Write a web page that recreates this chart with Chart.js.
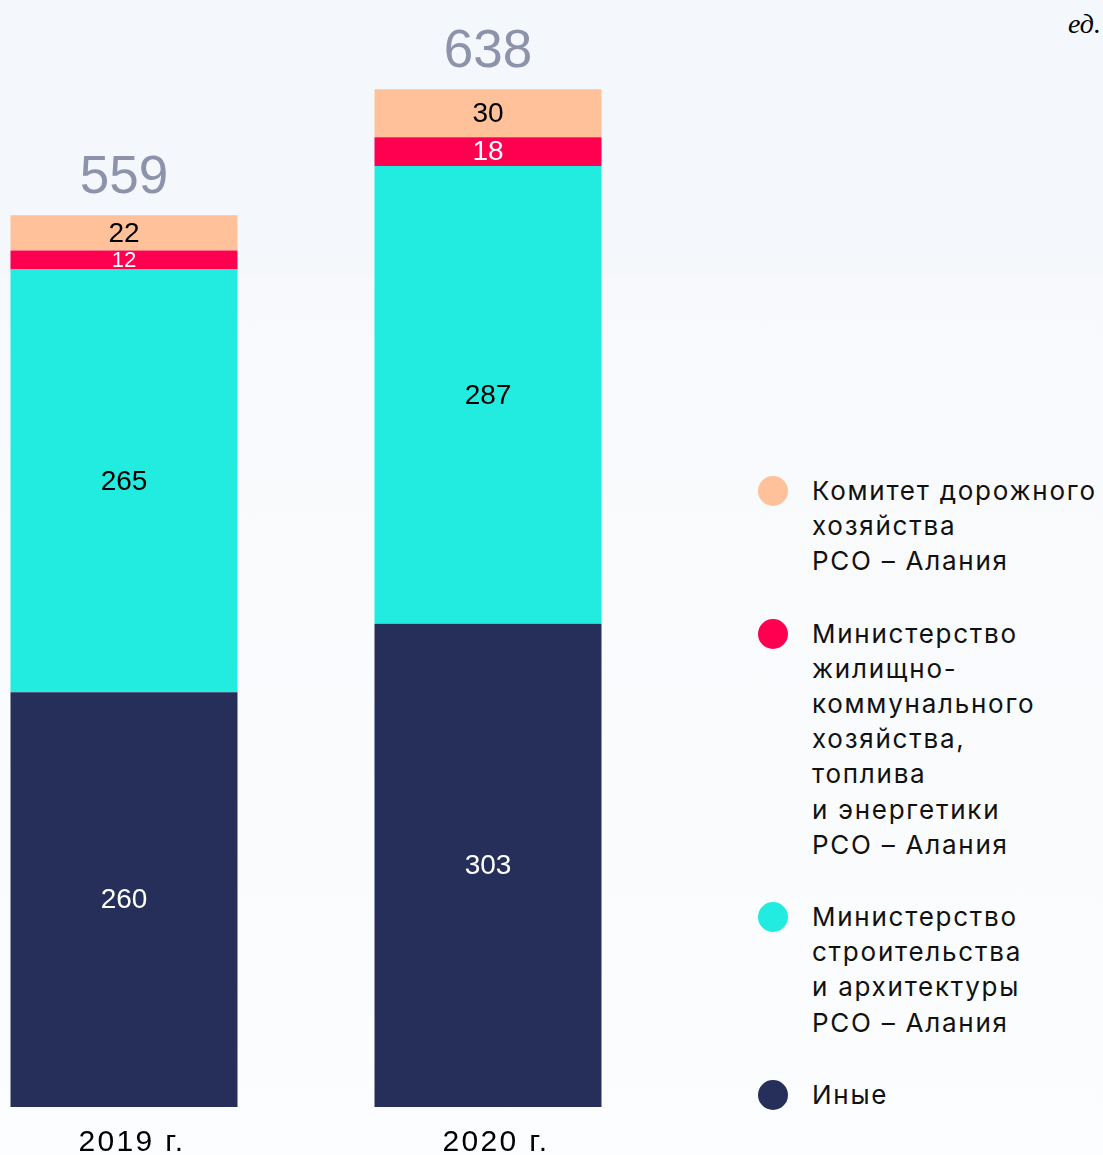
<!DOCTYPE html>
<html>
<head>
<meta charset="utf-8">
<script src="https://cdn.jsdelivr.net/npm/chart.js@4"></script>
<style>
  html, body { margin: 0; padding: 0; }
  body {
    width: 1103px; height: 1155px; overflow: hidden; position: relative;
    background: linear-gradient(#f4f7fb 0, #f5f8fb 275px, #f8f9fc 280px, #fcfdfe 100%);
    font-family: Inter, "Noto Sans", sans-serif;
  }
  #wrap { position: absolute; left: -58.5px; top: 0; width: 728px; height: 1155px; }
  #unit {
    position: absolute; right: 2px; top: 8px;
    font: italic 28px "Liberation Serif", "DejaVu Serif", serif; color: #000;
  }
  #legend { position: absolute; left: 758px; top: 473px; }
  .item { display: flex; align-items: flex-start; margin-bottom: 37px; }
  .dot { width: 30px; height: 30px; border-radius: 50%; margin-top: 3px; margin-right: 24px; flex: none; }
  .txt { font-size: 26px; line-height: 35.2px; letter-spacing: 1.75px; color: #111; white-space: pre; }
</style>
</head>
<body>
<div id="wrap"><canvas id="chart"></canvas></div>
<div id="unit">ед.</div>
<div id="legend"></div>
<script>
const years = ['2019 г.', '2020 г.'];
const other = [260, 303];
const construction = [265, 287];
const housing = [12, 18];
const roads = [22, 30];

const ctx = document.getElementById('chart');

// разрядка для подписей оси X
const tickSpacing = {
    id: 'tickSpacing',
    beforeDraw(chart) { chart.ctx.letterSpacing = '2.3px'; },
    beforeDatasetsDraw(chart) { chart.ctx.letterSpacing = '0px'; }
};

// подписи внутри сегментов и итоги над столбцами
const barLabels = {
    id: 'barLabels',
    afterDatasetsDraw(chart) {
        const c = chart.ctx;
        c.save();
        c.textAlign = 'center';
        chart.data.datasets.forEach((ds, di) => {
            const meta = chart.getDatasetMeta(di);
            meta.data.forEach((bar, i) => {
                const h = Math.abs(bar.base - bar.y);
                const size = Math.min(28, h + 3);
                c.font = size + 'px "Liberation Sans", Arial, sans-serif';
                c.fillStyle = ds.labelColor;
                c.textBaseline = 'middle';
                c.fillText(ds.data[i], bar.x, (bar.y + bar.base) / 2 + 1);
            });
        });
        const last = chart.getDatasetMeta(chart.data.datasets.length - 1);
        last.data.forEach((bar, i) => {
            let sum = 0;
            chart.data.datasets.forEach(ds => sum += ds.data[i]);
            c.font = '53px "Liberation Sans", Arial, sans-serif';
            c.fillStyle = '#8c93ab';
            c.textBaseline = 'alphabetic';
            c.fillText(sum, bar.x, bar.y - 22);
        });
        c.restore();
    }
};

const chart = new Chart(ctx, {
    type: 'bar',
    data: {
        labels: years,
        datasets: [
            { label: 'Иные', data: other, backgroundColor: '#252f5a', labelColor: '#ffffff' },
            { label: 'Министерство\nстроительства\nи архитектуры\nРСО – Алания', data: construction, backgroundColor: '#22ece0', labelColor: '#000000' },
            { label: 'Министерство\nжилищно-\nкоммунального\nхозяйства,\nтоплива\nи энергетики\nРСО – Алания', data: housing, backgroundColor: '#ff0050', labelColor: '#ffffff' },
            { label: 'Комитет дорожного\nхозяйства\nРСО – Алания', data: roads, backgroundColor: '#fec19a', labelColor: '#000000' }
        ]
    },
    options: {
        responsive: true,
        maintainAspectRatio: false,
        animation: false,
        layout: { padding: 0 },
        categoryPercentage: 1,
        barPercentage: 0.6236,
        plugins: {
            legend: { display: false },
            tooltip: { enabled: false }
        },
        scales: {
            x: {
                stacked: true,
                grid: { display: false, drawTicks: false },
                border: { display: false },
                ticks: { color: '#000', font: { family: '"Liberation Sans", Arial, sans-serif', size: 30 }, padding: 18, labelOffset: 8 },
                afterFit(scale) { scale.height = 48; }
            },
            y: {
                stacked: true,
                display: false,
                min: 0,
                max: 694
            }
        }
    },
    plugins: [tickSpacing, barLabels]
});

// легенда справа
const legend = document.getElementById('legend');
chart.data.datasets.slice().reverse().forEach(ds => {
    const item = document.createElement('div');
    item.className = 'item';
    const dot = document.createElement('div');
    dot.className = 'dot';
    dot.style.background = ds.backgroundColor;
    const txt = document.createElement('div');
    txt.className = 'txt';
    txt.textContent = ds.label;
    item.appendChild(dot);
    item.appendChild(txt);
    legend.appendChild(item);
});
</script>
</body>
</html>
